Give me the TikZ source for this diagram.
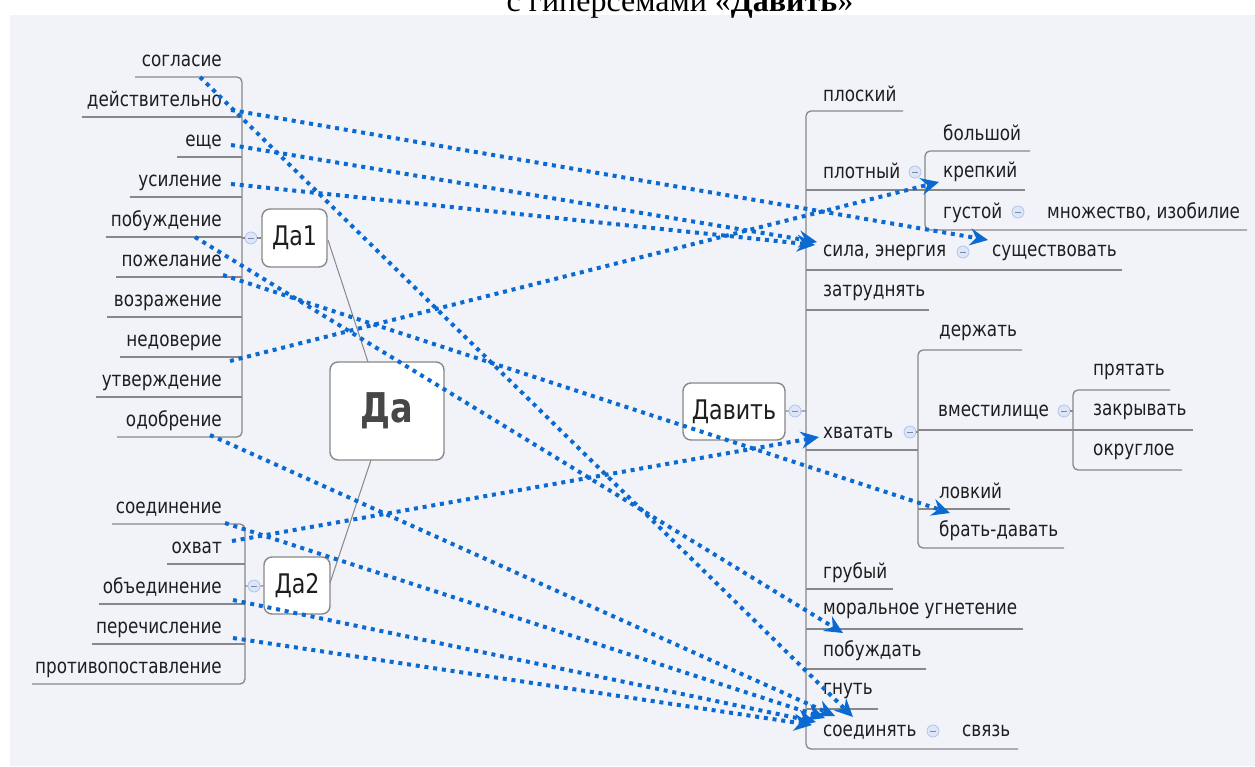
\documentclass[tikz,border=0pt]{standalone}
\usepackage{fontspec}
\setmainfont{DejaVu Sans}[FakeStretch=0.82]
\newfontfamily\titlefont{Liberation Serif}
\usetikzlibrary{arrows.meta}
\definecolor{bg}{HTML}{F2F3F8}
\definecolor{ln}{HTML}{888888}
\definecolor{txt}{HTML}{1E1E1E}
\definecolor{arr}{HTML}{0A6AD2}
\definecolor{cfill}{HTML}{DCE6F8}
\definecolor{cdraw}{HTML}{AFC4EC}
\tikzset{
  lbl/.style={font=\fontsize{20.5}{24}\selectfont, text=txt, inner sep=0pt},
  L/.style={lbl, anchor=base east},
  R/.style={lbl, anchor=base west},
  tl/.style={draw=ln, line width=1.3pt},
  box/.style={draw=ln, line width=1.4pt, rounded corners=8pt, fill=white, text=txt},
  cbtn/.style={circle, minimum size=12pt, inner sep=0pt, fill=cfill, draw=cdraw, line width=0.8pt,
    path picture={\draw[cdraw!70!black, line width=0.9pt] ([xshift=-3pt]path picture bounding box.center) -- ([xshift=3pt]path picture bounding box.center);}},
  arrline/.style={draw=arr, line width=4pt, dash pattern=on 4pt off 4.8pt, -{Stealth[length=18pt,width=17pt,inset=6pt]}}
}
\begin{document}
\begin{tikzpicture}[x=1pt,y=-1pt]
\useasboundingbox (0,0) rectangle (1255,766);
\clip (0,0) rectangle (1255,766);
\fill[white] (0,0) rectangle (1255,766);
\fill[bg] (10,15) rectangle (1255,766);
\node[anchor=base, font=\titlefont\fontsize{32}{36}\selectfont, text=black] (title) at (680,11) {с гиперсемами «\textbf{Давить}»};

% ---------- left tree Да1
\draw[tl, rounded corners=5pt] (135,77) -- (242,77) -- (242,437) -- (117,437);
\draw[tl] (82,117) -- (242,117);
\draw[tl] (177,157) -- (242,157);
\draw[tl] (130,197) -- (242,197);
\draw[tl] (106,237) -- (242,237);
\draw[tl] (116,277) -- (242,277);
\draw[tl] (107,317) -- (242,317);
\draw[tl] (120,357) -- (242,357);
\draw[tl] (96,397) -- (242,397);
% ---------- left tree Да2
\draw[tl, rounded corners=5pt] (112,524) -- (245,524) -- (245,684) -- (32,684);
\draw[tl] (167,564) -- (245,564);
\draw[tl] (99,604) -- (245,604);
\draw[tl] (92,644) -- (245,644);

% ---------- central boxes
\node[box, minimum width=65pt, minimum height=58pt, font=\fontsize{27}{30}\selectfont] (da1) at (294.5,238) {Да1};
\node[box, minimum width=66pt, minimum height=57pt, font=\fontsize{27}{30}\selectfont] (da2) at (297,585.5) {Да2};
\node[box, minimum width=114pt, minimum height=98pt, text=black!72, font=\fontsize{41}{44}\selectfont\bfseries] (da) at (387,411) {Да};
\node[box, minimum width=102pt, minimum height=57pt, font=\fontsize{27}{30}\selectfont] (davit) at (734,411.5) {Давить};
\draw[ln, line width=1pt] (328,240) -- (368,362);
\draw[ln, line width=1pt] (371,460) -- (330,583);

\node[cbtn] (c1) at (251,238) {};
\node[cbtn] (c2) at (254,586) {};
\draw[tl] (242,238) -- (c1) -- (da1);
\draw[tl] (245,586) -- (c2) -- (da2);

% ---------- left labels
\node[L] (n1) at (222,66) {согласие};
\node[L] (n2) at (222,106) {действительно};
\node[L] (n3) at (222,146) {еще};
\node[L] (n4) at (222,186) {усиление};
\node[L] (n5) at (222,226) {побуждение};
\node[L] (n6) at (222,266) {пожелание};
\node[L] (n7) at (222,306) {возражение};
\node[L] (n8) at (222,346) {недоверие};
\node[L] (n9) at (222,386) {утверждение};
\node[L] (n10) at (222,426) {одобрение};
\node[L] (m1) at (222,513) {соединение};
\node[L] (m2) at (222,553) {охват};
\node[L] (m3) at (222,593) {объединение};
\node[L] (m4) at (222,633) {перечисление};
\node[L] (m5) at (222,673) {противопоставление};

% ---------- right tree
\draw[tl, rounded corners=5pt] (903,111) -- (806,111) -- (806,749) -- (1018,749);
\draw[tl] (806,190) -- (1025,190);
\draw[tl] (806,270) -- (1122,270);
\draw[tl] (806,310) -- (929,310);
\draw[tl] (806,450) -- (918,450);
\draw[tl] (806,589) -- (893,589);
\draw[tl] (806,629) -- (1023,629);
\draw[tl] (806,669) -- (926,669);
\draw[tl] (806,709) -- (878,709);
\draw[tl, rounded corners=5pt] (1030,151) -- (925,151) -- (925,230) -- (1247,230);
\draw[tl, rounded corners=5pt] (1022,350) -- (918,350) -- (918,548) -- (1064,548);
\draw[tl] (918,430) -- (1193,430);
\draw[tl] (918,509) -- (1010,509);
\draw[tl, rounded corners=5pt] (1170,390) -- (1073,390) -- (1073,470) -- (1182,470);

\node[cbtn] (cd) at (795,411) {};
\draw[tl] (davit) -- (cd) -- (806,411);
\node[cbtn] (cp) at (915,172) {};
\node[cbtn] (cg) at (1018,212) {};
\node[cbtn] (cs) at (963,252) {};
\node[cbtn] (ch) at (910,432) {};
\draw[tl] (ch) -- (918,432);
\node[cbtn] (cv) at (1064,411) {};
\draw[tl] (cv) -- (1073,411);
\node[cbtn] (cc) at (933,731) {};

% ---------- right labels
\node[R] (r1) at (823,101) {плоский};
\node[R] (r2) at (823,178) {плотный};
\node[R] (r21) at (943,140) {большой};
\node[R] (r22) at (943,177) {крепкий};
\node[R] (r23) at (943,218) {густой};
\node[R] (r231) at (1047,218) {множество, изобилие};
\node[R] (r3) at (823,256) {сила, энергия};
\node[R] (r31) at (992,256) {существовать};
\node[R] (r4) at (823,296) {затруднять};
\node[R] (r5) at (823,438) {хватать};
\node[R] (r51) at (939,336) {держать};
\node[R] (r52) at (938,416) {вместилище};
\node[R] (r521) at (1093,375) {прятать};
\node[R] (r522) at (1093,415) {закрывать};
\node[R] (r523) at (1093,455) {округлое};
\node[R] (r53) at (939,498) {ловкий};
\node[R] (r54) at (939,536) {брать-давать};
\node[R] (r6) at (823,578) {грубый};
\node[R] (r7) at (823,614) {моральное угнетение};
\node[R] (r8) at (823,656) {побуждать};
\node[R] (r9) at (823,694) {гнуть};
\node[R] (r10) at (823,736) {соединять};
\node[R] (r101) at (962,736) {связь};

% ---------- arrows
\coordinate (s1) at (200,77);   \coordinate (e1) at (853,717);
\coordinate (s2) at (231,110);  \coordinate (e2) at (988,240);
\coordinate (s3) at (231,145);  \coordinate (e3) at (817,242);
\coordinate (s4) at (231,184);  \coordinate (e4) at (815,245);
\coordinate (s5) at (195,237);  \coordinate (e5) at (843,633);
\coordinate (s6) at (223,275);  \coordinate (e6) at (950,513);
\coordinate (s7) at (230,361);  \coordinate (e7) at (939,182);
\coordinate (s8) at (210,435);  \coordinate (e8) at (835,716);
\coordinate (s9) at (225,523);  \coordinate (e9) at (825,718);
\coordinate (s10) at (232,541); \coordinate (e10) at (819,437);
\coordinate (s11) at (233,600); \coordinate (e11) at (816,722);
\coordinate (s12) at (233,638); \coordinate (e12) at (812,725);
\foreach \i in {1,...,12} { \draw[arrline] (s\i) -- (e\i); }
\end{tikzpicture}
\end{document}
